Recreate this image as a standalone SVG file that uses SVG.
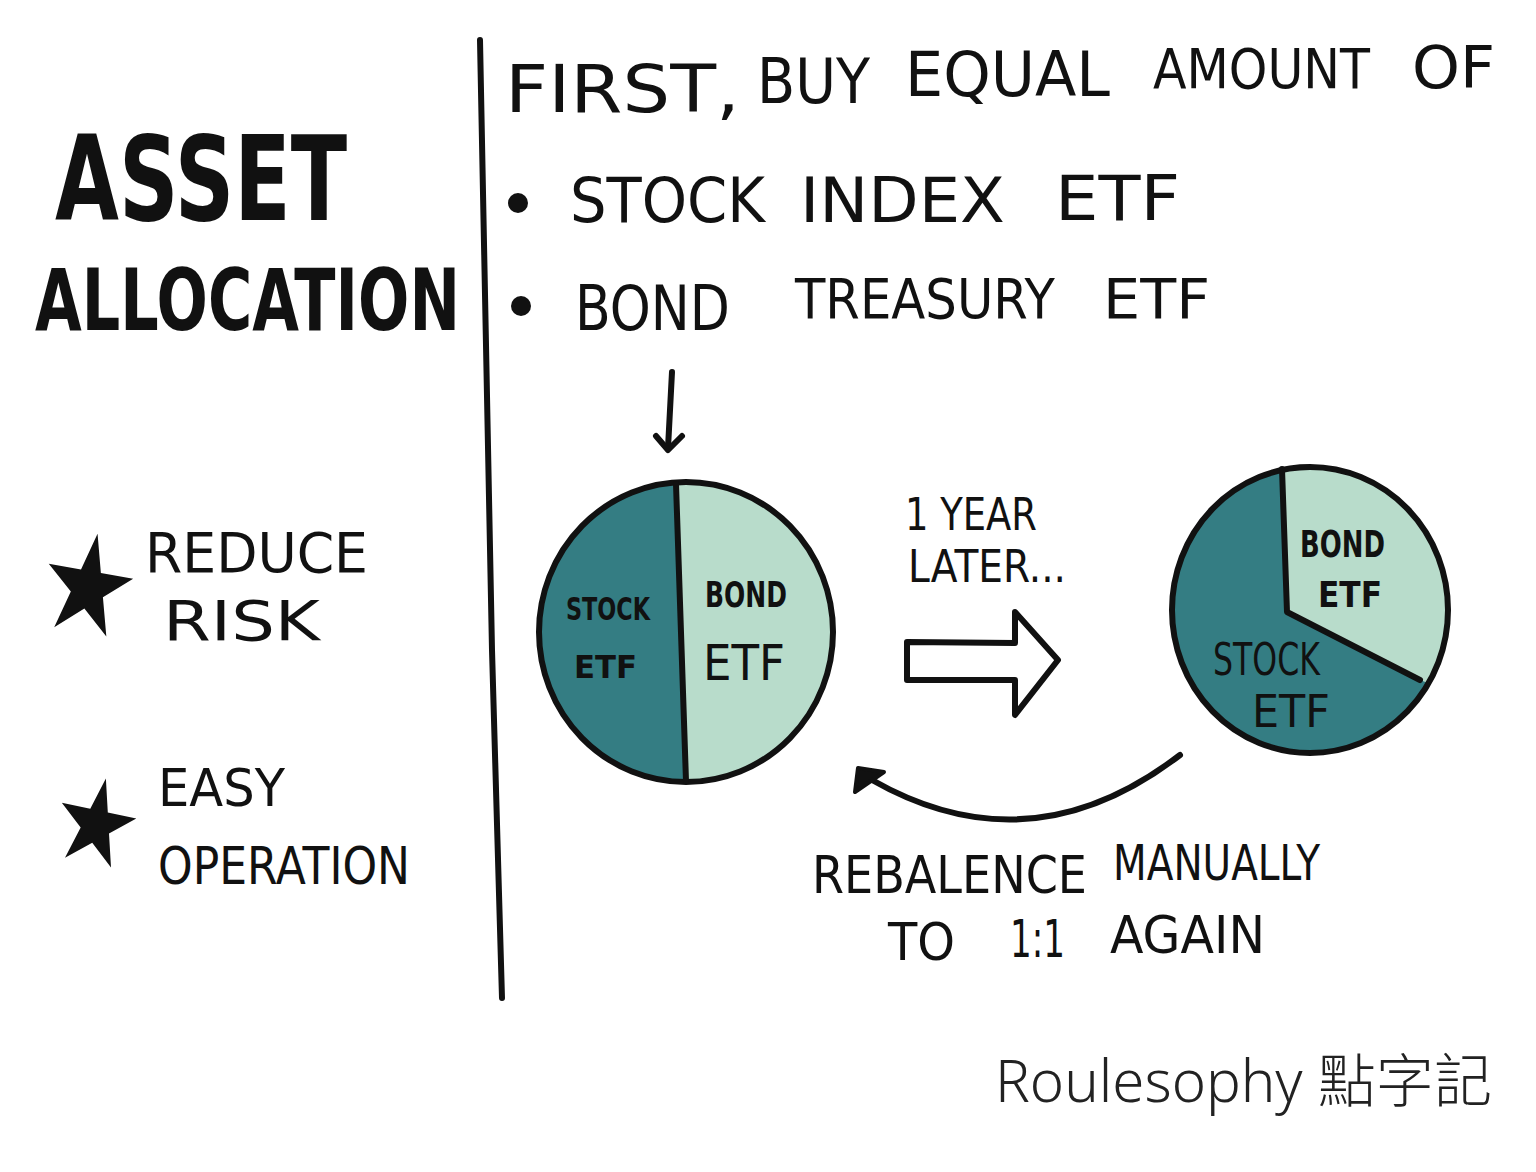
<svg xmlns="http://www.w3.org/2000/svg" width="1536" height="1172" viewBox="0 0 1536 1172">
<defs>
<style>
.h{font-family:"DejaVu Sans","Liberation Sans",sans-serif;fill:#111;}
.b{font-weight:bold;}
.ln{fill:none;stroke:#111;stroke-width:6;stroke-linecap:round;stroke-linejoin:round;}
.dark{fill:#347d83;}
.light{fill:#b8dccb;}
</style>
<clipPath id="c1"><ellipse cx="686" cy="632" rx="147" ry="150"/></clipPath>
<clipPath id="c2"><ellipse cx="1310" cy="610" rx="138" ry="143"/></clipPath>
<polygon id="star" points="0,-50 11.2,-15.4 47.6,-15.5 18.1,5.9 29.4,40.5 0,19 -29.4,40.5 -18.1,5.9 -47.6,-15.5 -11.2,-15.4"/>
</defs>
<rect width="1536" height="1172" fill="#fff"/>

<g id="divider"><path class="ln" d="M480,40 C486,300 488,500 492,650 C496,800 500,900 502,998"/></g>

<g id="title">
<text class="h b" x="55" y="220" font-size="118" textLength="292" lengthAdjust="spacingAndGlyphs">ASSET</text>
<text class="h b" x="35" y="330" font-size="86" textLength="425" lengthAdjust="spacingAndGlyphs">ALLOCATION</text>
</g>

<g id="benefit1">
<use href="#star" transform="translate(88,588) rotate(10) scale(0.9,1.1)" fill="#111"/>
<text class="h" x="145" y="572" font-size="56" textLength="223" lengthAdjust="spacingAndGlyphs">REDUCE</text>
<text class="h" x="163" y="640" font-size="56" textLength="157" lengthAdjust="spacingAndGlyphs">RISK</text>
</g>

<g id="benefit2">
<use href="#star" transform="translate(96,825) rotate(12) scale(0.8,0.95)" fill="#111"/>
<text class="h" x="158" y="806" font-size="52" textLength="127" lengthAdjust="spacingAndGlyphs">EASY</text>
<text class="h" x="158" y="884" font-size="52" textLength="252" lengthAdjust="spacingAndGlyphs">OPERATION</text>
</g>

<g id="intro">
<text class="h" x="505" y="112" font-size="66" textLength="235" lengthAdjust="spacingAndGlyphs">FIRST,</text>
<text class="h" x="757" y="103" font-size="62" textLength="113" lengthAdjust="spacingAndGlyphs">BUY</text>
<text class="h" x="905" y="96" font-size="62" textLength="205" lengthAdjust="spacingAndGlyphs">EQUAL</text>
<text class="h" x="1153" y="88" font-size="56" textLength="217" lengthAdjust="spacingAndGlyphs">AMOUNT</text>
<text class="h" x="1412" y="88" font-size="58" textLength="83" lengthAdjust="spacingAndGlyphs">OF</text>
<circle cx="518" cy="203" r="10" fill="#111"/>
<text class="h" x="570" y="222" font-size="62" textLength="195" lengthAdjust="spacingAndGlyphs">STOCK</text>
<text class="h" x="800" y="222" font-size="62" textLength="205" lengthAdjust="spacingAndGlyphs">INDEX</text>
<text class="h" x="1055" y="220" font-size="62" textLength="125" lengthAdjust="spacingAndGlyphs">ETF</text>
<circle cx="521" cy="306" r="10" fill="#111"/>
<text class="h" x="575" y="330" font-size="62" textLength="155" lengthAdjust="spacingAndGlyphs">BOND</text>
<text class="h" x="795" y="318" font-size="56" textLength="260" lengthAdjust="spacingAndGlyphs">TREASURY</text>
<text class="h" x="1103" y="318" font-size="56" textLength="107" lengthAdjust="spacingAndGlyphs">ETF</text>
</g>

<g id="pie-before">
<ellipse class="light" cx="686" cy="632" rx="147" ry="150"/>
<polygon class="dark" clip-path="url(#c1)" points="500,470 676,470 676,484 686,781 686,800 500,800"/>
<ellipse class="ln" cx="686" cy="632" rx="147" ry="150"/>
<path class="ln" d="M676,484 C680,580 682,680 686,781"/>
<text class="h b" x="566" y="620" font-size="32" textLength="84" lengthAdjust="spacingAndGlyphs">STOCK</text>
<text class="h b" x="574" y="678" font-size="32" textLength="63" lengthAdjust="spacingAndGlyphs">ETF</text>
<text class="h b" x="705" y="607" font-size="36" textLength="82" lengthAdjust="spacingAndGlyphs">BOND</text>
<text class="h" x="703" y="680" font-size="50" textLength="82" lengthAdjust="spacingAndGlyphs">ETF</text>
</g>

<g id="label-year">
<text class="h" x="905" y="530" font-size="44" textLength="132" lengthAdjust="spacingAndGlyphs">1 YEAR</text>
<text class="h" x="908" y="582" font-size="44" textLength="158" lengthAdjust="spacingAndGlyphs">LATER...</text>
</g>

<g id="pie-after">
<ellipse class="dark" cx="1310" cy="610" rx="138" ry="143"/>
<polygon class="light" clip-path="url(#c2)" points="1282,440 1287,612 1420,680 1500,710 1500,440"/>
<ellipse class="ln" cx="1310" cy="610" rx="138" ry="143"/>
<path class="ln" d="M1282,469 L1287,612 L1420,680"/>
<text class="h b" x="1300" y="557" font-size="38" textLength="85" lengthAdjust="spacingAndGlyphs">BOND</text>
<text class="h b" x="1318" y="607" font-size="36" textLength="64" lengthAdjust="spacingAndGlyphs">ETF</text>
<text class="h" x="1213" y="675" font-size="44" textLength="107" lengthAdjust="spacingAndGlyphs">STOCK</text>
<text class="h" x="1252" y="727" font-size="44" textLength="78" lengthAdjust="spacingAndGlyphs">ETF</text>
</g>

<g id="connectors">
<path class="ln" d="M672,372 L668,448"/>
<path class="ln" d="M656,436 L668,450 L682,436"/>
<polygon class="ln" fill="#fff" points="907,642 1015,643 1015,612 1058,660 1015,715 1015,680 907,680"/>
<path class="ln" d="M1180,755 Q1030,870 872,780"/>
<polygon fill="#111" stroke="#111" stroke-width="4" stroke-linejoin="round" points="855,792 858,768 884,772"/>
</g>

<g id="label-rebalance">
<text class="h" x="812" y="893" font-size="52" textLength="275" lengthAdjust="spacingAndGlyphs">REBALENCE</text>
<text class="h" x="1113" y="880" font-size="50" textLength="207" lengthAdjust="spacingAndGlyphs">MANUALLY</text>
<text class="h" x="888" y="960" font-size="52" textLength="67" lengthAdjust="spacingAndGlyphs">TO</text>
<text class="h" x="1010" y="957" font-size="52" textLength="55" lengthAdjust="spacingAndGlyphs">1:1</text>
<text class="h" x="1110" y="953" font-size="52" textLength="155" lengthAdjust="spacingAndGlyphs">AGAIN</text>
</g>

<g id="brand">
<text x="995" y="1102" font-family="'Noto Sans','Noto Sans CJK TC',sans-serif" font-weight="300" font-size="58" fill="#222" textLength="497" lengthAdjust="spacingAndGlyphs">Roulesophy 點字記</text>
</g>
</svg>
